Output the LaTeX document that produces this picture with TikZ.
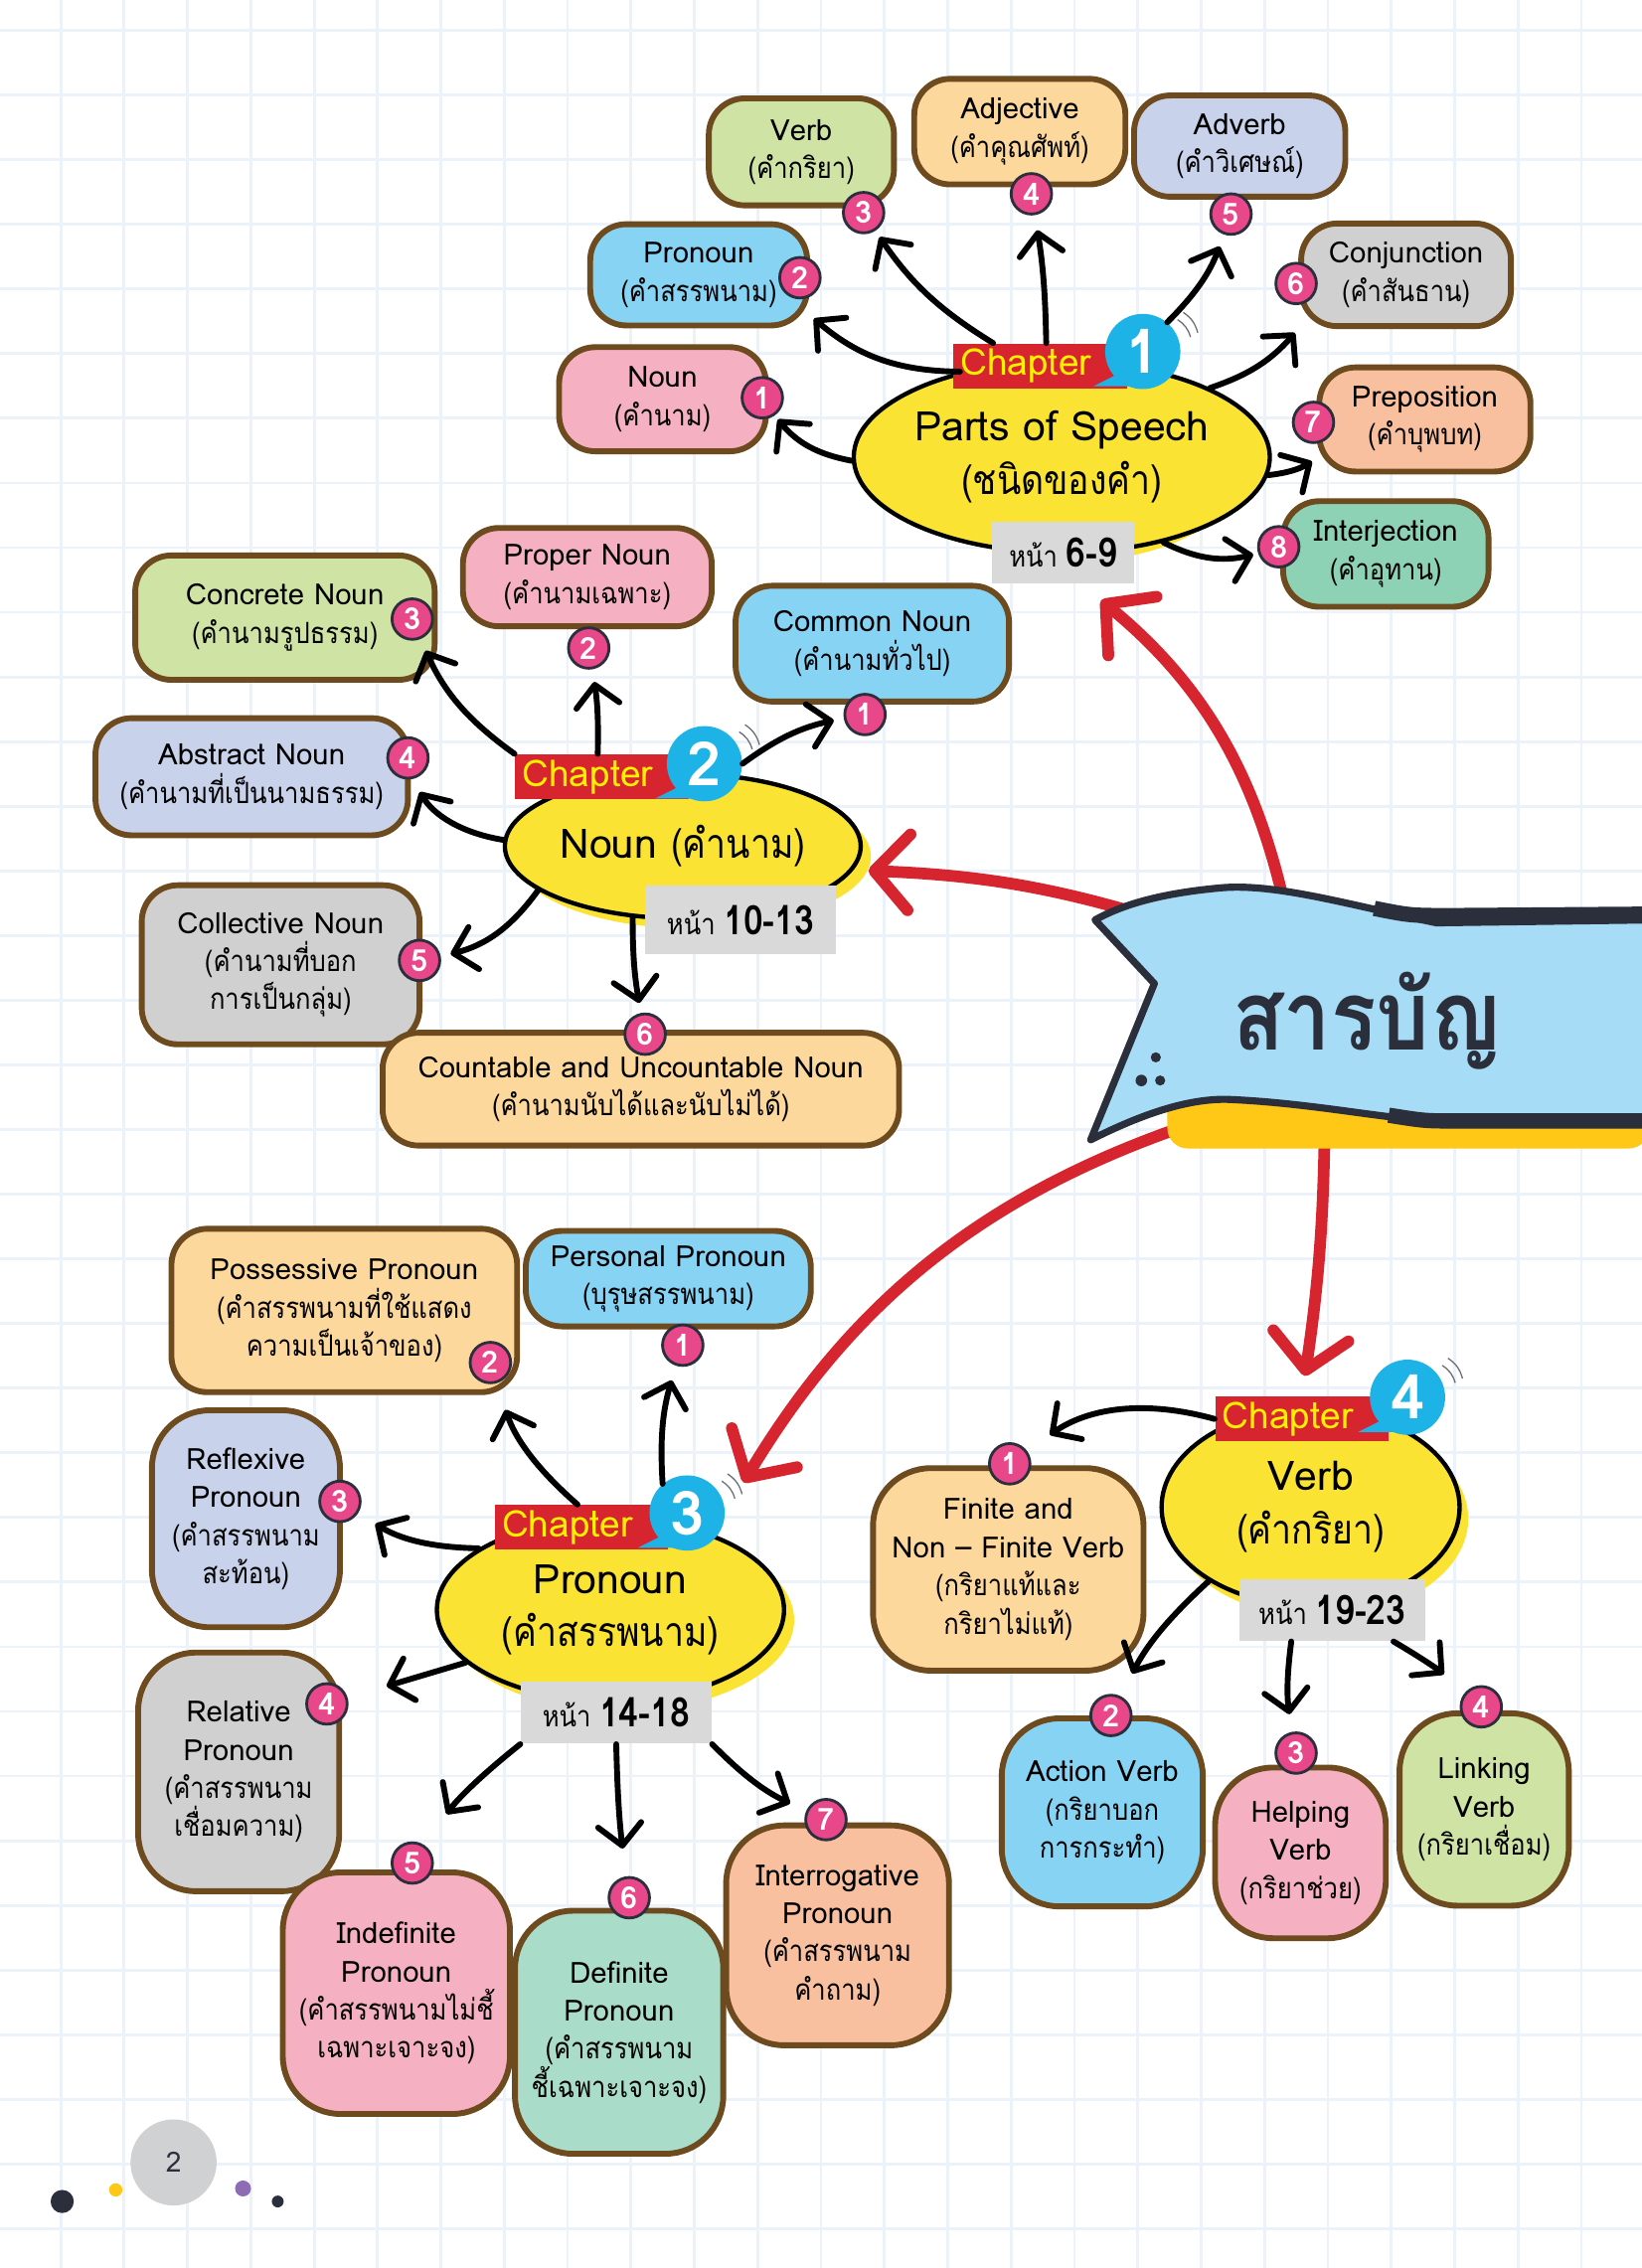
\documentclass[tikz,border=0pt]{standalone}
\usepackage{fontspec}
\setmainfont[Script=Thai]{Loma}
\newfontfamily\thai[Script=Thai, FakeStretch=0.87]{Loma}
\usetikzlibrary{arrows.meta,calc,shapes.geometric}
\definecolor{gridblue}{HTML}{EBF2F9}
\definecolor{rimbrown}{HTML}{6E4A1F}
\definecolor{egg}{HTML}{FAE332}
\definecolor{chred}{HTML}{D7252F}
\definecolor{chyel}{HTML}{FFF000}
\definecolor{chblue}{HTML}{1DB3E6}
\definecolor{numpink}{HTML}{E8478A}
\definecolor{tag}{HTML}{D9D9D9}
\definecolor{cpink}{HTML}{F5B0C2}
\definecolor{cblue}{HTML}{87D3F4}
\definecolor{cgreen}{HTML}{CFE4A4}
\definecolor{corange}{HTML}{FDD89C}
\definecolor{clav}{HTML}{C9D2EB}
\definecolor{cgray}{HTML}{D0D0D0}
\definecolor{cpeach}{HTML}{F9C09F}
\definecolor{cmint}{HTML}{8DD2B4}
\definecolor{cmint2}{HTML}{A9DCC9}
\definecolor{ribbon}{HTML}{A6DCF5}
\definecolor{ink}{HTML}{2B2E3B}
\definecolor{ribyel}{HTML}{FFC716}
\definecolor{pgray}{HTML}{D0D1D3}
\definecolor{dotpurple}{HTML}{8E6BB5}
\begin{document}
\begin{tikzpicture}[x=0.2mm, y=-0.2mm,
  leaf/.style={draw=rimbrown, line width=2.3pt, rounded corners=5mm, align=center, inner sep=0pt, font=\fontsize{11.5}{15}\selectfont},
  hub/.style={ellipse, draw, line width=1.7pt, fill=egg, inner sep=0pt, align=center, font=\fontsize{16}{21}\selectfont},
  num/.style={circle, draw=ink, line width=1.1pt, fill=numpink, text=white, minimum size=5.6mm, inner sep=0pt, font=\bfseries\fontsize{12}{12}\selectfont},
  chap/.style={fill=chred, text=chyel, minimum height=6.2mm, text width=22mm, align=left, inner xsep=1mm, inner ysep=0pt, font=\fontsize{14.5}{14.5}\selectfont},
  bignum/.style={circle, fill=chblue, text=white, minimum size=10.4mm, inner sep=0pt, font=\bfseries\fontsize{24}{24}\selectfont},
  pg/.style={fill=tag, minimum height=8.6mm, inner sep=0pt, font=\thai\fontsize{11.5}{11.5}\selectfont},
  arr/.style={line width=2.3pt, line cap=round, -{Straight Barb[length=2.9mm, width=6mm, round]}},
  redarr/.style={draw=chred, line width=4.6pt, line cap=round, -{Straight Barb[length=4.8mm, width=10.5mm, round]}}]
  \useasboundingbox (0,0) rectangle (1135,1568);
  \fill[white] (0,0) rectangle (1135,1568);
  \foreach \i in {0,...,25} \draw[gridblue, line width=1.1pt] ({42+43.8*\i},0) -- ++(0,1568);
  \foreach \i in {0,...,34} \draw[gridblue, line width=1.1pt] (0,{21+44.7*\i}) -- ++(1135,0);

  \fill[egg] (742,322) ellipse [x radius=118, y radius=66];
  \fill[egg] (479,592) ellipse [x radius=123, y radius=50];
  \fill[egg] (429,1120) ellipse [x radius=120, y radius=63];
  \fill[egg] (912,1050) ellipse [x radius=103, y radius=68];

  % chapter 1
  \node[hub, minimum width=47.2mm, minimum height=26.4mm] (sp) at (734,316) {Parts of Speech\\{\thai(ชนิดของคำ)}};
  \node[chap] (spch) at (719,253) {Chapter};
  \node[bignum] (spno) at (790,243) {1};
  \node[pg, minimum width=19.6mm] (sppg) at (735,382) {หน้า \textbf{\fontsize{16}{16}\selectfont 6-9}};
  \node[leaf, fill=cpink, minimum width=28.6mm, minimum height=14.4mm] (sp1) at (458,276) {Noun\\{\thai(คำนาม)}};
  \node[leaf, fill=cblue, minimum width=30mm, minimum height=14mm] (sp2) at (483,190) {Pronoun\\{\thai(คำสรรพนาม)}};
  \node[leaf, fill=cgreen, minimum width=25.6mm, minimum height=14.8mm] (sp3) at (554,105) {Verb\\{\thai(คำกริยา)}};
  \node[leaf, fill=corange, minimum width=29.2mm, minimum height=14.6mm] (sp4) at (705,91) {Adjective\\{\thai(คำคุณศัพท์)}};
  \node[leaf, fill=clav, minimum width=29.2mm, minimum height=14mm] (sp5) at (857,101) {Adverb\\{\thai(คำวิเศษณ์)}};
  \node[leaf, fill=cgray, minimum width=29mm, minimum height=14.2mm] (sp6) at (972,190) {Conjunction\\{\thai(คำสันธาน)}};
  \node[leaf, fill=cpeach, minimum width=29.2mm, minimum height=14.4mm] (sp7) at (985,290) {Preposition\\{\thai(คำบุพบท)}};
  \node[leaf, fill=cmint, minimum width=28.4mm, minimum height=14.6mm] (sp8) at (958,383) {Interjection\\{\thai(คำอุทาน)}};

  % chapter 2
  \node[hub, minimum width=49.2mm, minimum height=20mm] (nn) at (472,585) {Noun {\thai(คำนาม)}};
  \node[chap] (nnch) at (416,537) {Chapter};
  \node[bignum] (nnno) at (487,528) {2};
  \node[pg, minimum width=26.4mm, minimum height=9.4mm] (nnpg) at (512,636) {หน้า \textbf{\fontsize{16}{16}\selectfont 10-13}};
  \node[leaf, fill=cblue, minimum width=37.8mm, minimum height=16mm] (nn1) at (603,445) {Common Noun\\{\thai(คำนามทั่วไป)}};
  \node[leaf, fill=cpink, minimum width=34.4mm, minimum height=13.6mm] (nn2) at (406,399) {Proper Noun\\{\thai(คำนามเฉพาะ)}};
  \node[leaf, fill=cgreen, minimum width=41.4mm, minimum height=17.2mm] (nn3) at (197,427) {Concrete Noun\\{\thai(คำนามรูปธรรม)}};
  \node[leaf, fill=clav, minimum width=43.2mm, minimum height=16.2mm] (nn4) at (174,537) {Abstract Noun\\{\thai(คำนามที่เป็นนามธรรม)}};
  \node[leaf, fill=cgray, minimum width=38.4mm, minimum height=22mm] (nn5) at (194,667) {Collective Noun\\{\thai(คำนามที่บอก}\\{\thai การเป็นกลุ่ม)}};
  \node[leaf, fill=corange, minimum width=71.4mm, minimum height=15.6mm] (nn6) at (443,753) {Countable and Uncountable Noun\\{\thai(คำนามนับได้และนับไม่ได้)}};

  % chapter 3
  \node[hub, minimum width=48mm, minimum height=25.2mm] (pn) at (422,1113) {Pronoun\\{\thai(คำสรรพนาม)}};
  \node[chap] (pnch) at (402,1056) {Chapter};
  \node[bignum] (pnno) at (475,1046) {3};
  \node[pg, minimum width=26.4mm] (pnpg) at (426,1184) {หน้า \textbf{\fontsize{16}{16}\selectfont 14-18}};
  \node[leaf, fill=cblue, minimum width=39.4mm, minimum height=13.2mm] (pn1) at (462,884) {Personal Pronoun\\{\thai(บุรุษสรรพนาม)}};
  \node[leaf, fill=corange, minimum width=47.8mm, minimum height=22.6mm] (pn2) at (238,906) {Possessive Pronoun\\{\thai(คำสรรพนามที่ใช้แสดง}\\{\thai ความเป็นเจ้าของ)}};
  \node[leaf, fill=clav, minimum width=26mm, minimum height=30mm, rounded corners=8mm] (pn3) at (170,1050) {Reflexive\\Pronoun\\{\thai(คำสรรพนาม}\\{\thai สะท้อน)}};
  \node[leaf, fill=cgray, minimum width=27.8mm, minimum height=33mm, rounded corners=8mm] (pn4) at (165,1225) {Relative\\Pronoun\\{\thai(คำสรรพนาม}\\{\thai เชื่อมความ)}};
  \node[leaf, fill=cpink, minimum width=31.4mm, minimum height=33.4mm, rounded corners=8mm] (pn5) at (274,1378) {Indefinite\\Pronoun\\{\thai(คำสรรพนามไม่ชี้}\\{\thai เฉพาะเจาะจง)}};
  \node[leaf, fill=cmint2, minimum width=28.8mm, minimum height=33.6mm, rounded corners=8mm] (pn6) at (428,1405) {Definite\\Pronoun\\{\thai(คำสรรพนาม}\\{\thai ชี้เฉพาะเจาะจง)}};
  \node[leaf, fill=cpeach, minimum width=30.8mm, minimum height=30.4mm, rounded corners=8mm] (pn7) at (579,1338) {Interrogative\\Pronoun\\{\thai(คำสรรพนาม}\\{\thai คำถาม)}};

  % chapter 4
  \node[hub, minimum width=41.2mm, minimum height=27.2mm] (vb) at (906,1042) {Verb\\{\thai(คำกริยา)}};
  \node[chap] (vbch) at (900,981) {Chapter};
  \node[bignum] (vbno) at (973,966) {4};
  \node[pg, minimum width=25.6mm] (vbpg) at (921,1113) {หน้า \textbf{\fontsize{16}{16}\selectfont 19-23}};
  \node[leaf, fill=corange, minimum width=37.4mm, minimum height=28mm, rounded corners=8mm] (vb1) at (697,1085) {Finite and\\Non – Finite Verb\\{\thai(กริยาแท้และ}\\{\thai กริยาไม่แท้)}};
  \node[leaf, fill=cblue, minimum width=27.8mm, minimum height=26mm, rounded corners=8mm] (vb2) at (762,1253) {Action Verb\\{\thai(กริยาบอก}\\{\thai การกระทำ)}};
  \node[leaf, fill=cpink, minimum width=23.6mm, minimum height=23.6mm, rounded corners=8mm] (vb3) at (899,1281) {Helping\\Verb\\{\thai(กริยาช่วย)}};
  \node[leaf, fill=cgreen, minimum width=23.4mm, minimum height=26.6mm, rounded corners=8mm] (vb4) at (1026,1251) {Linking\\Verb\\{\thai(กริยาเชื่อม)}};

  \foreach \k in {spno,nnno,pnno,vbno} {
    \fill[chblue] ($(\k)+(-14,14)$) -- ($(\k)+(-34,24)$) -- ($(\k)+(-4,24)$) -- cycle;
    \draw[ink!70, line width=0.5pt] ($(\k)+(24,-22)$) to[bend left=20] ($(\k)+(33,-10)$);
    \draw[ink!70, line width=0.5pt] ($(\k)+(28,-27)$) to[bend left=20] ($(\k)+(38,-13)$);
  }

  \foreach \nm/\x/\y/\k in {sp1n/527/275/1, sp2n/553/192/2, sp3n/597/147/3, sp4n/713/134/4,
      sp5n/851/148/5, sp6n/896/196/6, sp7n/908/292/7, sp8n/884/378/8,
      nn1n/598/494/1, nn2n/407/448/2, nn3n/285/428/3, nn4n/282/524/4, nn5n/290/664/5, nn6n/446/715/6,
      pn1n/472/930/1, pn2n/339/942/2, pn3n/235/1038/3, pn4n/226/1178/4, pn5n/285/1288/5,
      pn6n/435/1312/6, pn7n/571/1258/7,
      vb1n/698/1012/1, vb2n/768/1186/2, vb3n/896/1212/3, vb4n/1024/1180/4}
    \node[num] (\nm) at (\x,\y) {\k};

  \draw[arr, shorten >=2pt] (sp.181) to[bend left=20] (sp1n);
  \draw[arr, shorten >=2pt] (sp.140) to[bend left=20] (sp2.-20);
  \draw[arr, shorten >=3pt] (spch.154) to[bend left=12] (sp3n);
  \draw[arr, shorten >=6pt] (spch.75) to[bend right=4] (sp4n);
  \draw[arr, shorten >=5pt] (spno.50) to[bend right=12] (sp5n);
  \draw[arr, shorten >=2pt] (sp.25) to[bend right=15] (sp6.south west);
  \draw[arr, shorten >=2pt] (sp.-5) to[bend right=12] (sp7.200);
  \draw[arr, shorten >=2pt] (sp.-40) to[bend right=20] (sp8n);

  \draw[arr, shorten >=4pt] (nnno.east) to[bend left=12] (nn1n);
  \draw[arr, shorten >=5pt] (nnch.100) to[bend right=5] (nn2n);
  \draw[arr, shorten >=5pt] (nnch.north west) to[bend left=15] (nn3n);
  \draw[arr, shorten >=7pt] (nn.178) to[bend left=25] (nn4.east);
  \draw[arr, shorten >=4pt] (nn.197) to[bend left=20] (nn5n);
  \draw[arr, shorten >=4pt] (nn.235) to[bend right=5] (nn6n);

  \draw[arr, shorten >=6pt] (pnno.130) to[bend left=10] (pn1n);
  \draw[arr, shorten >=11pt] (pnch.100) to[bend left=15] (pn2n);
  \draw[arr, shorten >=8pt] (pn.155) to[bend left=15] (pn3n);
  \draw[arr, shorten >=16pt] (pn.200) to (pn4n);
  \draw[arr, shorten >=15pt] (pnpg.south west) to[bend right=8] (pn5n);
  \draw[arr, shorten >=11pt] (pnpg.south) to[bend right=3] (pn6n);
  \draw[arr, shorten >=7pt] (pnpg.south east) to[bend right=10] (pn7n);

  \draw[arr, shorten >=11pt] (vbch.west) to[bend right=25] (vb1n);
  \draw[arr, shorten >=10pt] (vb.216) to[bend right=10] (vb2n);
  \draw[arr, shorten >=7pt] ($(vbpg.south west)+(36,0)$) to[bend right=8] (vb3n);
  \draw[arr, shorten >=11pt] ($(vbpg.south east)+(-22,0)$) to[bend left=5] (vb4n);

  % banner
  \coordinate (r1) at (893,650);
  \coordinate (r2) at (830,645);
  \coordinate (r3) at (880,760);
  \coordinate (r4) at (916,760);
  \draw[redarr, shorten >=10pt] (r1) to[bend right=20] (sppg.-60);
  \draw[redarr, shorten >=6pt] (r2) to[bend right=8] (nn.-8);
  \draw[redarr, shorten >=14pt] (r3) to[bend right=22] (pnno.east);
  \draw[redarr, shorten >=8pt] (r4) to[bend left=4] (vbch.north);
  \fill[ribyel, rounded corners=8] (807,755) rectangle (1140,794);
  \filldraw[fill=ribbon, draw=ink, line width=2.8pt, line join=round]
    (1140,636) -- (993,638) .. controls (930,625) and (880,610) .. (842,614)
    .. controls (800,618) and (775,626) .. (757,636) -- (798,680) -- (754,788)
    .. controls (790,770) and (820,760) .. (847,760)
    .. controls (900,762) and (950,772) .. (980,774) -- (1140,774);
  \draw[ink, line width=6pt] (950,628) .. controls (975,633) .. (1005,633) -- (1140,632);
  \draw[ink, line width=6pt] (960,771) .. controls (985,775) .. (1010,775) -- (1140,775);
  \node[text=ink, font=\thai\bfseries\fontsize{38}{38}\selectfont] (toc) at (945,706) {สารบัญ};
  \fill[ink] (799,731) circle (3.5);
  \fill[ink] (789,747) circle (4);
  \fill[ink] (802,747) circle (3.5);

  \node[circle, fill=pgray, minimum size=11.9mm, inner sep=0pt, text=ink, font=\fontsize{11}{11}\selectfont] (pgno) at (120,1495) {2};
  \fill[ink] (43,1522) circle (8);
  \fill[ribyel] (80,1514) circle (4.6);
  \fill[dotpurple] (168,1513) circle (5.5);
  \fill[ink] (192,1522) circle (4.1);
\end{tikzpicture}
\end{document}
